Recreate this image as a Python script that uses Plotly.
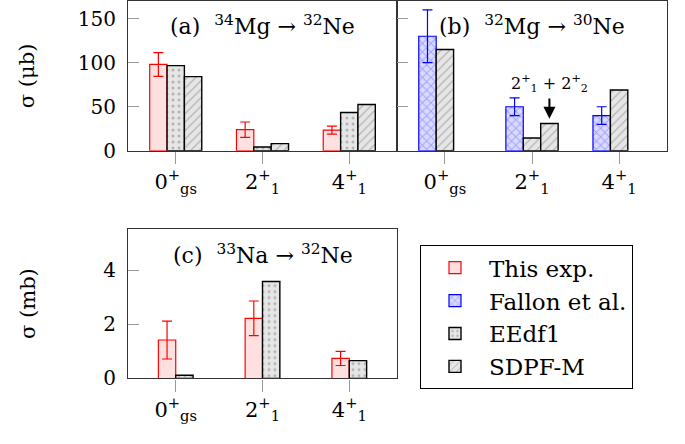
import plotly.graph_objects as go

# ---------------- data ----------------
states = ["0<sup>+</sup><sub>gs</sub>", "2<sup>+</sup><sub>1</sub>", "4<sup>+</sup><sub>1</sub>"]
idx = [0, 1, 2]

# (a) 34Mg -> 32Ne  (micro-barn)
a_exp = [98, 24, 23.5]
a_exp_err = [13.5, 8.7, 4.6]
a_eedf1 = [96.7, 4.4, 43.4]
a_sdpfm = [84.2, 8.1, 52.6]

# (b) 32Mg -> 30Ne  (micro-barn)
b_fallon = [130, 50, 40]
b_fallon_err = [30, 10, 10]
b_sdpfm = [115, 14.5, 69]
b_sdpfm_sum_x = [1]
b_sdpfm_sum = [31]          # 2_1+ + 2_2+

# (c) 33Na -> 32Ne  (milli-barn)
c_exp = [1.42, 2.22, 0.74]
c_exp_err = [0.7, 0.64, 0.26]
c_eedf1 = [0.12, 3.58, 0.66]

# ---------------- styles ----------------
FONT = "DejaVu Serif, Liberation Serif, serif"
W = 0.2
NB = "\u00a0"
exp_style = dict(color="rgba(255,0,0,0.12)", line=dict(color="red", width=1.2))
fal_style = dict(color="#d8d8ff", line=dict(color="blue", width=1.2),
                 pattern=dict(shape="x", fgcolor="#6b6bff", bgcolor="#dadaff", size=6, solidity=0.3))
eed_style = dict(color="#e6e6e6", line=dict(color="black", width=1.4),
                 pattern=dict(shape=".", fgcolor="#808080", bgcolor="#e6e6e6", size=6, solidity=0.2))
sdp_style = dict(color="#e6e6e6", line=dict(color="black", width=1.4),
                 pattern=dict(shape="/", fgcolor="#808080", bgcolor="#e6e6e6", size=6, solidity=0.2))

fig = go.Figure()

def bar(x, y, style, off, xa, ya, name, show, rank, err=None, ecol=None):
    kw = {}
    if err is not None:
        kw["error_y"] = dict(type="data", array=err, color=ecol, thickness=1.2, width=5)
    fig.add_trace(go.Bar(x=x, y=y, width=W, offset=off, marker=style, xaxis=xa, yaxis=ya,
                         name=name, showlegend=show, legendrank=rank, **kw))

# panel (a)
bar(idx, a_exp, exp_style, -0.3, "x", "y", "This exp.", True, 1, a_exp_err, "red")
bar(idx, a_eedf1, eed_style, -0.1, "x", "y", "EEdf1", True, 3)
bar(idx, a_sdpfm, sdp_style, 0.1, "x", "y", "SDPF-M", True, 4)
# panel (b)
bar(idx, b_fallon, fal_style, -0.3, "x2", "y2", "Fallon et al.", True, 2, b_fallon_err, "blue")
bar(idx, b_sdpfm, sdp_style, -0.1, "x2", "y2", "SDPF-M", False, 4)
bar(b_sdpfm_sum_x, b_sdpfm_sum, sdp_style, 0.1, "x2", "y2", "SDPF-M", False, 4)
# panel (c)
bar(idx, c_exp, exp_style, -0.2, "x3", "y3", "This exp.", False, 1, c_exp_err, "red")
bar(idx, c_eedf1, eed_style, 0.0, "x3", "y3", "EEdf1", False, 3)

PW, PH = 685, 444
def px(v): return v / PW
def py(v): return 1 - v / PH

xcommon = dict(range=[-0.55, 2.55], tickvals=idx, ticktext=states, ticks="outside", ticklen=12,
               tickcolor="#999999", showline=True, linecolor="#333333", linewidth=1.2, mirror=True,
               showgrid=False, zeroline=False, tickfont=dict(family=FONT, size=21, color="black"))
ycommon = dict(ticks="inside", ticklen=11, tickcolor="#999999", showline=True, linecolor="#333333",
               linewidth=1.2, mirror=True, showgrid=False, zeroline=False, ticklabelstandoff=7,
               tickfont=dict(family=FONT, size=20, color="black"))

fig.update_layout(
    width=PW, height=PH, margin=dict(l=0, r=0, t=0, b=0),
    paper_bgcolor="white", plot_bgcolor="white", barmode="overlay",
    font=dict(family=FONT, size=21, color="black"),
    xaxis=dict(domain=[px(128), px(397)], anchor="y", **xcommon),
    yaxis=dict(domain=[py(155), py(1)], anchor="x", range=[0, 170], tickvals=[0, 50, 100, 150],
               title=dict(text="σ (μb)", font=dict(family=FONT, size=21), standoff=37), **ycommon),
    xaxis2=dict(domain=[px(397), px(667)], anchor="y2", **xcommon),
    yaxis2=dict(domain=[py(155), py(1)], anchor="x2", range=[0, 170], tickvals=[0, 50, 100, 150],
                showticklabels=False, **ycommon),
    xaxis3=dict(domain=[px(128), px(397)], anchor="y3", **xcommon),
    yaxis3=dict(domain=[py(389), py(235)], anchor="x3", range=[0, 5.53], tickvals=[0, 2, 4],
                title=dict(text="σ (mb)", font=dict(family=FONT, size=21), standoff=61), **ycommon),
    legend=dict(x=px(420), y=py(252), xanchor="left", yanchor="top", bgcolor="white",
                bordercolor="black", borderwidth=1, font=dict(family=FONT, size=23),
                traceorder="normal", tracegroupgap=0, itemwidth=58),
    showlegend=True,
)

annos = [
    dict(text=f"(a){NB} <sup>34</sup>Mg{NB}→{NB}<sup>32</sup>Ne", x=0.5, y=py(26),
         xref="x domain", yref="paper"),
    dict(text=f"(b){NB} <sup>32</sup>Mg{NB}→{NB}<sup>30</sup>Ne", x=0.5, y=py(26),
         xref="x2 domain", yref="paper"),
    dict(text=f"(c){NB} <sup>33</sup>Na{NB}→{NB}<sup>32</sup>Ne", x=0.5, y=py(261),
         xref="x3 domain", yref="paper"),
]
for a in annos:
    fig.add_annotation(showarrow=False, font=dict(family=FONT, size=22), xanchor="center",
                       yanchor="middle", **a)

fig.add_annotation(text=f"2<sup>+</sup><sub>1</sub>{NB}+{NB}2<sup>+</sup><sub>2</sub>", x=1.2, y=76,
                   xref="x2", yref="y2", showarrow=False, font=dict(family=FONT, size=16),
                   xanchor="center", yanchor="middle")
fig.add_annotation(text="", x=1.2, y=36.5, ax=1.2, ay=61, xref="x2", yref="y2", axref="x2",
                   ayref="y2", showarrow=True, arrowhead=2, arrowsize=1.2, arrowwidth=2,
                   arrowcolor="black")

fig.write_html("out.html", config={"displayModeBar": False},
               post_script="document.body.style.margin='0';")
